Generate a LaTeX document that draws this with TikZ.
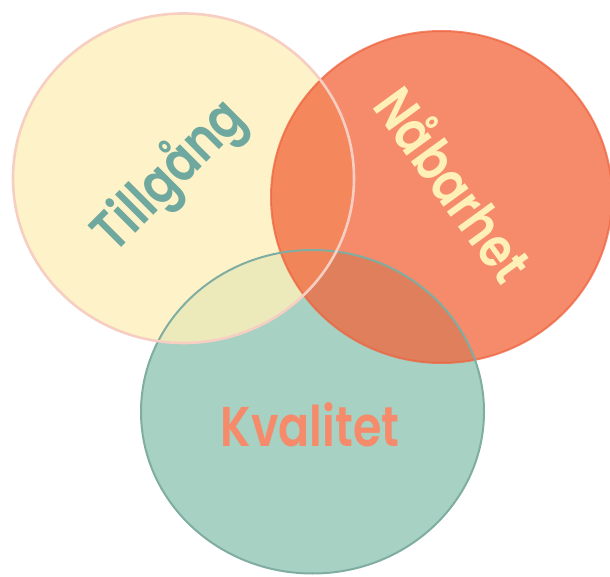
\documentclass[tikz,border=0pt]{standalone}
\usepackage{fontspec}
\setmainfont{Poppins}
\newfontfamily\lblfont{Poppins SemiBold}
\definecolor{tealfill}{HTML}{A6D1C3}
\definecolor{tealline}{HTML}{7FADA2}
\definecolor{yellowfill}{HTML}{FEEFBA}
\definecolor{yellowline}{HTML}{F7CEC2}
\definecolor{orangefill}{HTML}{F2663C}
\definecolor{orangeline}{HTML}{EE6440}
\definecolor{txtteal}{HTML}{6FA89E}
\definecolor{txtyellow}{HTML}{FFF0B8}
\definecolor{txtorange}{HTML}{F58B6B}
\tikzset{
  lbl/.style={font=\lblfont\fontsize{56}{56}\selectfont, inner sep=0pt},
}
\begin{document}
\begin{tikzpicture}[x=1pt,y=1pt]
\useasboundingbox (0,0) rectangle (610,576);
\coordinate (cy) at (183.5,397.75);
\coordinate (co) at (441.5,379);
\coordinate (ct) at (312.5,164.25);
% fills
\fill[tealfill] (ct) ellipse [x radius=171.5, y radius=161.75];
\fill[yellowfill, fill opacity=0.8] (cy) ellipse [x radius=170.5, y radius=164.75];
\path[fill=orangefill, draw=orangeline, line width=2, fill opacity=0.76, draw opacity=0.76] (co) ellipse [x radius=170.5, y radius=166];
% strokes
\draw[tealline, line width=2] (ct) ellipse [x radius=171.5, y radius=161.75];
\draw[yellowline, line width=2.6] (cy) ellipse [x radius=170.5, y radius=164.75];
% labels
\node[lbl, text=txtteal, rotate=45] (tillgang) at (170,399) {\scalebox{0.82}[1]{Tillgång}};
\node[lbl, text=txtyellow, rotate=-54] (nabarhet) at (455,393) {\scalebox{0.82}[1]{Nåbarhet}};
\node[lbl, text=txtorange, anchor=base] (kvalitet) at (310,130) {\scalebox{0.82}[1]{Kvalitet}};
\end{tikzpicture}
\end{document}
